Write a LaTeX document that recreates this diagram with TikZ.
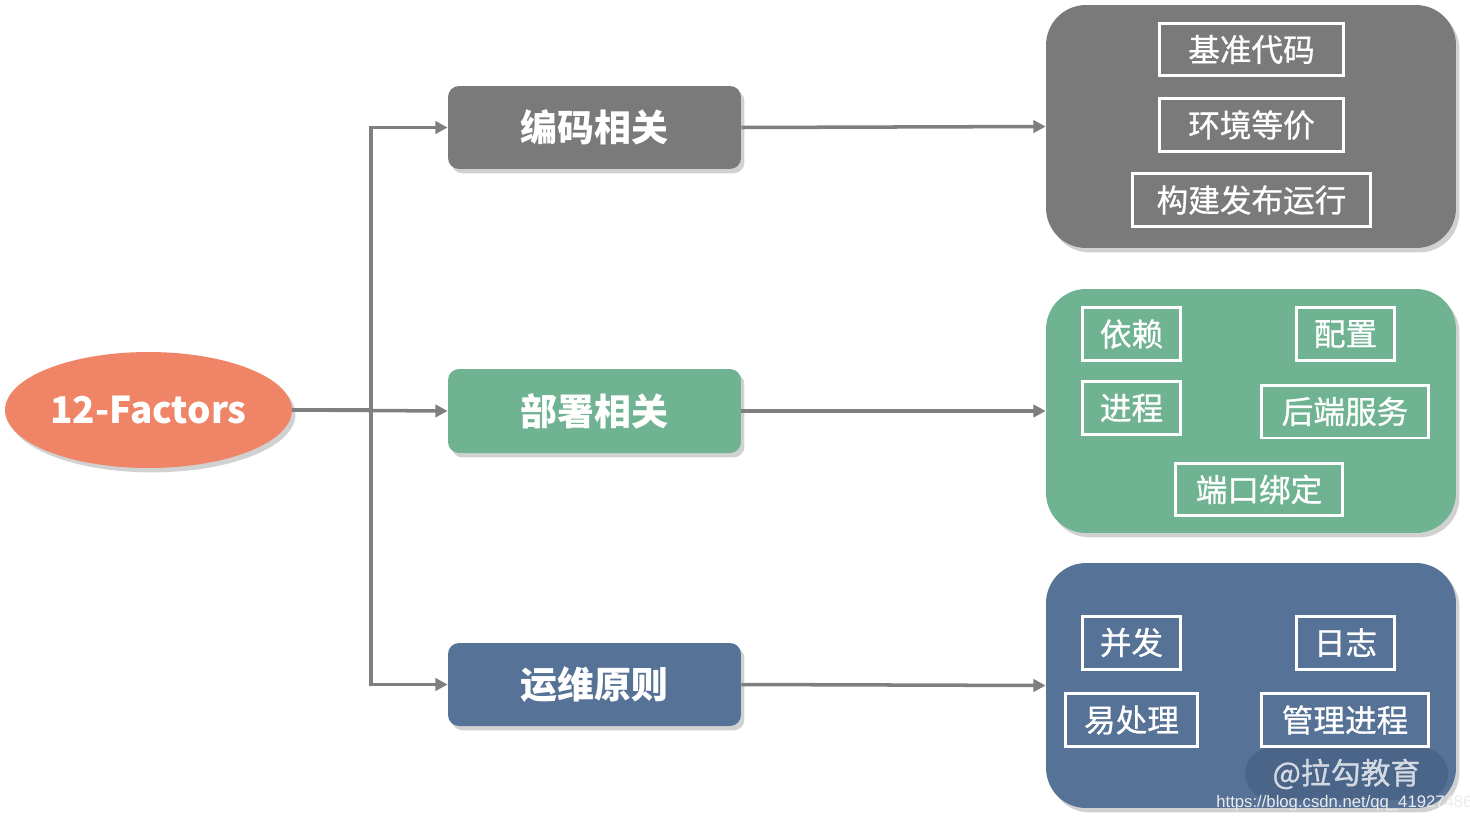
\documentclass[tikz,border=0pt]{standalone}
\usepackage{fontspec}
\setmainfont{Noto Sans CJK SC}
\newfontfamily\itemfont{Noto Sans CJK SC}[FakeBold=0.8]
\newfontfamily\urlfont{Liberation Sans}
\usetikzlibrary{shapes.geometric,shadows,arrows.meta}
\definecolor{cgray}{HTML}{7A7A7A}
\definecolor{cgreen}{HTML}{70B393}
\definecolor{cblue}{HTML}{567296}
\definecolor{csalmon}{HTML}{EF8467}
\definecolor{cline}{HTML}{7F7F7F}
\definecolor{cpill}{HTML}{4A6386}
\tikzset{
  shad/.style={drop shadow={shadow xshift=2pt,shadow yshift=-2.5pt,opacity=0.18,fill=black}},
  catbox/.style={rectangle,rounded corners=0.22cm,minimum width=5.86cm,minimum height=1.66cm,text=white,font=\fontsize{21}{24}\selectfont\bfseries,shad},
  panel/.style={rectangle,rounded corners=0.8cm,minimum width=8.2cm,minimum height=4.88cm,shad},
  item/.style={rectangle,draw=white,line width=1.7pt,minimum height=1.06cm,text=white,inner sep=0pt,font=\itemfont\fontsize{18}{21}\selectfont},
  conn/.style={draw=cline,line width=2pt},
  arr/.style={conn,-{Triangle[length=7pt,width=7pt]}},
}
\begin{document}
\begin{tikzpicture}[x=0.02cm,y=-0.02cm]
\clip (0,0) rectangle (1470,822);
\useasboundingbox (0,0) rectangle (1470,822);
% root
\node[ellipse,fill=csalmon,inner sep=0pt,minimum width=5.74cm,minimum height=2.32cm,text=white,font=\fontsize{21}{24}\selectfont\bfseries,shad] (fac) at (148.5,410) {12-Factors};
% categories
\node[catbox,fill=cgray] (b1) at (594.5,127.5) {编码相关};
\node[catbox,fill=cgreen,minimum height=1.68cm] (b2) at (594.5,411) {部署相关};
\node[catbox,fill=cblue] (b3) at (594.5,684.5) {运维原则};
% panels
\node[panel,fill=cgray,minimum height=4.86cm] (p1) at (1251,126.5) {};
\node[panel,fill=cgreen] (p2) at (1251,411) {};
\node[panel,fill=cblue,minimum height=4.9cm] (p3) at (1251,685.5) {};
% items panel 1
\node[item,minimum width=3.68cm,minimum height=1.04cm] (i1) at (1251.5,49.5) {基准代码};
\node[item,minimum width=3.68cm] (i2) at (1251.5,125) {环境等价};
\node[item,minimum width=4.76cm] (i3) at (1251.5,200) {构建发布运行};
% items panel 2
\node[item,minimum width=1.96cm] (i4) at (1131.5,334) {依赖};
\node[item,minimum width=1.96cm] (i5) at (1345.5,334) {配置};
\node[item,minimum width=1.96cm] (i6) at (1131.5,408) {进程};
\node[item,minimum width=3.34cm] (i7) at (1345,411.5) {后端服务};
\node[item,minimum width=3.34cm,minimum height=1.04cm] (i8) at (1259,489.5) {端口绑定};
% items panel 3
\node[item,minimum width=1.96cm] (i9) at (1131.5,642.5) {并发};
\node[item,minimum width=1.96cm] (i10) at (1345.5,642.5) {日志};
\node[item,minimum width=2.64cm] (i11) at (1131.5,720) {易处理};
\node[item,minimum width=3.34cm] (i12) at (1345,720) {管理进程};
% connectors
\coordinate (j) at (371,410);
\draw[conn] (fac.east) -- (j);
\draw[arr] (j) |- (b1.west);
\draw[arr] (fac.east) -- (b2.west);
\draw[arr] (j) |- (b3.west);
\draw[arr] (b1.east) -- (p1.west);
\draw[arr] (b2.east) -- (p2.west);
\draw[arr] (b3.east) -- (p3.west);
% watermark
\node[rectangle,rounded corners=0.52cm,fill=cpill,fill opacity=0.85,text opacity=0.85,minimum width=4.06cm,minimum height=1.04cm,text=white!88!cblue,font=\itemfont\fontsize{17}{20}\selectfont] (wm) at (1346.5,774) {@拉勾教育};
\node[anchor=west,inner sep=0pt,text=white!85!gray,font=\urlfont\fontsize{9.5}{11}\selectfont] (url) at (1216,803) {https://blog.csdn.net/qq\_41927486};
\end{tikzpicture}
\end{document}
